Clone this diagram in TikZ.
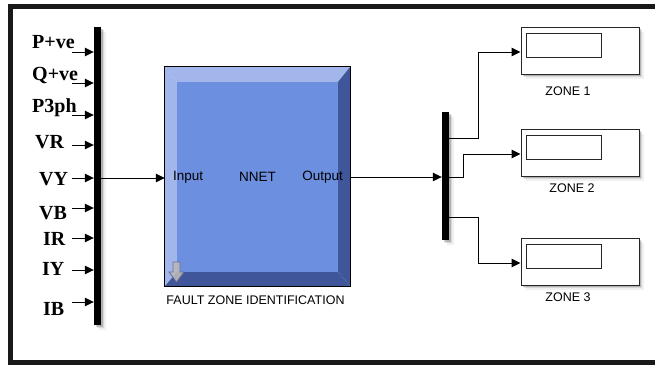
\documentclass[tikz,border=0pt]{standalone}
\usepackage{fontspec}
\setmainfont{Liberation Sans}
\newfontfamily\lblfont{Liberation Serif}
\usetikzlibrary{arrows.meta,shadows}
\definecolor{bevlight}{HTML}{A3B6EB}
\definecolor{bevdark}{HTML}{3F569A}
\definecolor{face}{HTML}{6D8FE0}
\tikzset{
  sig/.style={line width=1pt,-{Triangle[length=9pt,width=8.5pt]}},
  wire/.style={line width=1pt},
  soft/.style={general shadow={shadow xshift=1.5pt,shadow yshift=-1.5pt,fill=black,opacity=.18},
               general shadow={shadow xshift=3pt,shadow yshift=-3pt,fill=black,opacity=.10},
               general shadow={shadow xshift=4.5pt,shadow yshift=-4.5pt,fill=black,opacity=.06}},
  busbar/.style={fill=black,draw=none,inner sep=0pt,minimum width=7pt,soft},
  inlbl/.style={font=\lblfont\bfseries\fontsize{20}{20}\selectfont,anchor=base west,inner sep=0pt},
  blktxt/.style={font=\fontsize{13.5}{13.5}\selectfont,inner sep=0pt},
  captxt/.style={font=\fontsize{12.5}{13}\selectfont,inner sep=0pt},
  zonebox/.style={draw=black!85,line width=1pt,fill=white,minimum width=118pt,minimum height=47pt,inner sep=0pt,soft},
  zoneinner/.style={draw=black!85,line width=1pt,minimum width=75pt,minimum height=24pt,inner sep=0pt},
}
\begin{document}
\begin{tikzpicture}[x=1pt,y=-1pt]
\useasboundingbox (0,0) rectangle (655,364);
% frame
\draw[line width=4.5pt,black!90] (655,6.5) -- (10.5,6.5) -- (10.5,362.5) -- (655,362.5);

% left bus
\node[busbar,minimum height=298pt] (lbus) at (97.5,176) {};

% input labels
\node[inlbl] (l1) at (32,48) {P+ve};
\node[inlbl] (l2) at (32,80) {Q+ve};
\node[inlbl] (l3) at (32,112) {P3ph};
\node[inlbl] (l4) at (35,148) {VR};
\node[inlbl] (l5) at (39,185) {VY};
\node[inlbl] (l6) at (39,219) {VB};
\node[inlbl] (l7) at (43,245) {IR};
\node[inlbl] (l8) at (42,275) {IY};
\node[inlbl] (l9) at (43,315) {IB};
\foreach \i/\yy in {1/52,2/83,3/115,4/145,5/178,6/208,7/238,8/270,9/302}{
  \coordinate (s\i) at (72,\yy);
  \draw[sig] (s\i) -- (s\i -| lbus.west);
}

% NNET block
\node[draw=none,minimum width=185pt,minimum height=219pt,inner sep=0pt] (nnet) at (257.5,176.5) {};
\fill[bevlight] (165,67) -- (350,67) -- (338,82) -- (177,82) -- cycle;
\fill[bevlight] (165,67) -- (177,82) -- (177,272) -- (165,286) -- cycle;
\fill[bevdark] (350,67) -- (350,286) -- (338,272) -- (338,82) -- cycle;
\fill[bevdark] (165,286) -- (350,286) -- (338,272) -- (177,272) -- cycle;
\fill[face] (177,82) rectangle (338,272);
\draw[black,line width=1pt] (nnet.north west) rectangle (nnet.south east);
% small down-arrow icon
\draw[fill=gray!55,draw=gray!80!blue,line width=.8pt,opacity=.9]
  (173,262) -- (180,262) -- (180,272) -- (184,272) -- (176.5,282) -- (169,272) -- (173,272) -- cycle;
\node[blktxt,anchor=west] (inp) at (173,177) {Input};
\node[blktxt] (nn) at (257.5,177) {NNET};
\node[blktxt,anchor=east] (outp) at (343,177) {Output};
\node[captxt] (fzi) at (255.5,300) {FAULT ZONE IDENTIFICATION};

\coordinate (inpt) at (lbus.east |- 0,178);
\draw[sig] (inpt) -- (inpt -| nnet.west);

% right bus
\node[busbar,minimum height=128pt] (rbus) at (445.5,176) {};
\coordinate (outpt) at (nnet.east |- 0,177);
\draw[sig] (outpt) -- (outpt -| rbus.west);

% zone displays
\node[zonebox] (z1) at (580,50.5) {};
\node[zonebox] (z2) at (580,152.5) {};
\node[zonebox] (z3) at (580,261.5) {};
\node[zoneinner] (i1) at (563.5,45) {};
\node[zoneinner] (i2) at (563.5,147) {};
\node[zoneinner] (i3) at (563.5,256) {};
\node[captxt] (c1) at (568,91) {ZONE 1};
\node[captxt] (c2) at (572,188) {ZONE 2};
\node[captxt] (c3) at (568,297) {ZONE 3};

\coordinate (o1) at (rbus.east |- 0,138);
\coordinate (o2) at (rbus.east |- 0,177);
\coordinate (o3) at (rbus.east |- 0,217);
\coordinate (t1) at (z1.west |- 0,52);
\coordinate (t2) at (z2.west |- 0,154);
\coordinate (t3) at (z3.west |- 0,263);
\draw[sig] (o1) -- (478,138) -- (478,52) -- (t1);
\draw[sig] (o2) -- (463,177) -- (463,154) -- (t2);
\draw[sig] (o3) -- (478,217) -- (478,263) -- (t3);
\end{tikzpicture}
\end{document}
